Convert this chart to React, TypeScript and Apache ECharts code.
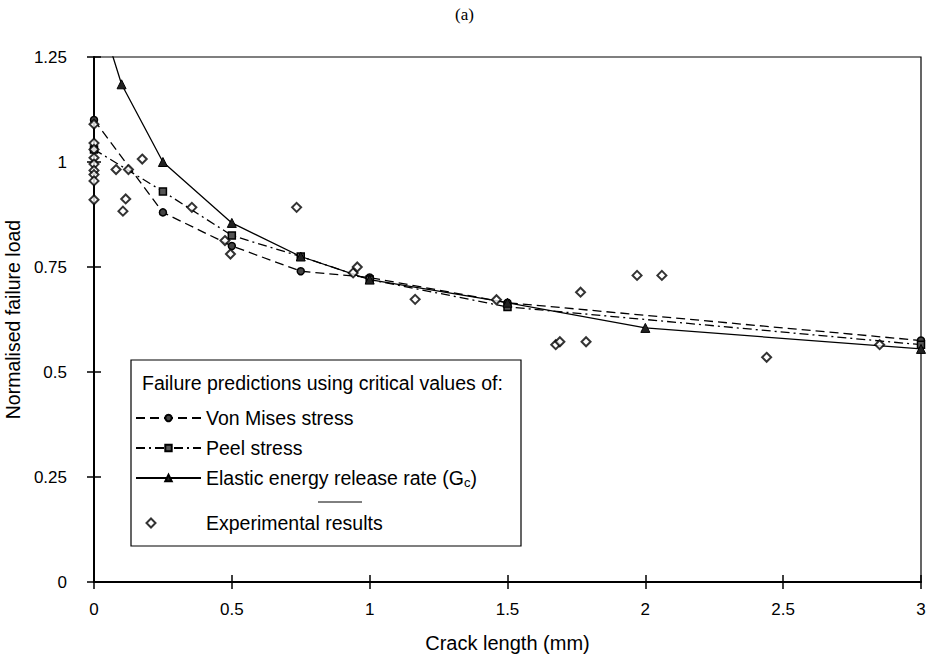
import React, { useEffect, useRef } from "react";
import * as echarts from "echarts";

// Crack length (mm) at which the stress-based predictions were computed
const modelX = [0, 0.25, 0.5, 0.75, 1, 1.5, 3];
const vonMises = [1.1, 0.88, 0.8, 0.74, 0.725, 0.665, 0.575];
const peel = [1.03, 0.93, 0.825, 0.775, 0.72, 0.655, 0.565];
// Energy-based prediction (first point lies above the plotted range)
const gcX = [0.05, 0.1, 0.25, 0.5, 0.75, 1, 1.5, 2, 3];
const gcY = [1.29, 1.185, 1.0, 0.855, 0.775, 0.72, 0.665, 0.605, 0.555];

// Experimental results
const expX = [0, 0, 0, 0, 0, 0, 0, 0, 0, 0.08, 0.105, 0.115, 0.125, 0.175, 0.355, 0.475, 0.495, 0.735, 0.94, 0.955, 1.165, 1.46, 1.675, 1.69, 1.765, 1.785, 1.97, 2.06, 2.44, 2.85];
const expY = [1.09, 1.045, 1.03, 1.01, 0.995, 0.98, 0.97, 0.955, 0.91, 0.982, 0.883, 0.912, 0.982, 1.007, 0.892, 0.813, 0.781, 0.892, 0.736, 0.75, 0.673, 0.672, 0.565, 0.572, 0.69, 0.572, 0.73, 0.73, 0.535, 0.565];

const xTicks = [0, 0.5, 1, 1.5, 2, 2.5, 3];
const yTicks = [0, 0.25, 0.5, 0.75, 1, 1.25];

const FONT = "'Liberation Sans', Arial, sans-serif";
const GC_NAME = "Elastic energy release rate (Gc)";

export default function App() {
  const ref = useRef<HTMLDivElement>(null);
  useEffect(() => {
    if (!ref.current) return;
    const chart = echarts.init(ref.current, undefined, { renderer: "svg" });
    const pairs = (xs: number[], ys: number[]) => xs.map((x, i) => [x, ys[i]]);
    const gcData: any[] = pairs(gcX, gcY).map((p, i) =>
      i === 0 ? { value: p, symbol: "none" } : p
    );
    const tickStyle = { color: "#000", width: 1.5 };
    const option: any = {
      animation: false,
      backgroundColor: "#fff",
      textStyle: { fontFamily: FONT, color: "#000" },
      title: {
        text: "(a)",
        left: "center",
        top: 1,
        textStyle: { fontFamily: "'Liberation Serif', 'Times New Roman', serif", fontSize: 17, fontWeight: "normal", color: "#000" },
      },
      grid: {
        left: 94,
        right: 8,
        top: 57,
        bottom: 74,
        outerBoundsMode: "none",
        containLabel: false,
        show: true,
        borderColor: "#000",
        borderWidth: 1.2,
        backgroundColor: "transparent",
      },
      xAxis: [
        {
          type: "value",
          min: xTicks[0],
          max: xTicks[xTicks.length - 1],
          interval: 0.5,
          position: "bottom",
          splitLine: { show: false },
          name: "Crack length (mm)",
          nameLocation: "middle",
          nameGap: 51,
          nameTextStyle: { fontFamily: FONT, fontSize: 20, color: "#000" },
          axisLine: { show: true, lineStyle: { color: "#000", width: 2 } },
          axisTick: { show: true, length: 7, lineStyle: tickStyle },
          axisLabel: { fontFamily: FONT, fontSize: 17, color: "#000", margin: 19 },
        },
        {
          type: "value",
          min: xTicks[0],
          max: xTicks[xTicks.length - 1],
          interval: 0.5,
          position: "bottom",
          splitLine: { show: false },
          axisLine: { show: false },
          axisTick: { show: true, inside: true, length: 7, lineStyle: tickStyle },
          axisLabel: { show: false },
        },
      ],
      yAxis: [
        {
          type: "value",
          min: yTicks[0],
          max: yTicks[yTicks.length - 1],
          interval: 0.25,
          position: "left",
          splitLine: { show: false },
          name: "Normalised failure load",
          nameLocation: "middle",
          nameGap: 62,
          nameTextStyle: { fontFamily: FONT, fontSize: 19.5, color: "#000" },
          axisLine: { show: true, lineStyle: { color: "#000", width: 2 } },
          axisTick: { show: true, length: 7, lineStyle: tickStyle },
          axisLabel: { fontFamily: FONT, fontSize: 17, color: "#000", margin: 27 },
        },
        {
          type: "value",
          min: yTicks[0],
          max: yTicks[yTicks.length - 1],
          interval: 0.25,
          position: "left",
          splitLine: { show: false },
          axisLine: { show: false },
          axisTick: { show: true, inside: true, length: 7, lineStyle: tickStyle },
          axisLabel: { show: false },
        },
      ],
      legend: [
        {
          data: ["Von Mises stress", "Peel stress", GC_NAME],
          orient: "vertical",
          left: 130,
          top: 402,
          itemWidth: 65,
          itemHeight: 8,
          itemGap: 8,
          z: 6,
          selectedMode: false,
          textStyle: {
            fontFamily: FONT,
            fontSize: 19.5,
            color: "#000",
            lineHeight: 22,
            rich: {
              sub: { fontFamily: FONT, fontSize: 13, color: "#000", lineHeight: 22, verticalAlign: "bottom", padding: [8, 0, 0, 0] },
            },
          },
          formatter: (name: string) =>
            name === GC_NAME ? "Elastic energy release rate (G{sub|c})" : name,
        },
        {
          data: ["Experimental results"],
          orient: "vertical",
          left: 140.5,
          top: 507,
          itemWidth: 9,
          itemHeight: 9,
          z: 6,
          selectedMode: false,
          textStyle: { fontFamily: FONT, fontSize: 19.5, color: "#000", lineHeight: 22, padding: [0, 0, 0, 45.5] },
        },
      ],
      graphic: [
        {
          type: "rect",
          shape: { x: 131, y: 360, width: 390, height: 186 },
          style: { fill: "#fff", stroke: "#000", lineWidth: 1.2 },
          z: 5,
        },
        {
          type: "text",
          x: 142,
          y: 383,
          style: { text: "Failure predictions using critical values of:", font: `19.5px ${FONT}`, fill: "#000", verticalAlign: "middle", align: "left" },
          z: 6,
        },
        {
          type: "line",
          shape: { x1: 318, y1: 502, x2: 362, y2: 502 },
          style: { stroke: "#000", lineWidth: 1 },
          z: 6,
        },
      ],
      series: [
        {
          name: "Von Mises stress",
          type: "line",
          data: pairs(modelX, vonMises),
          symbol: "circle",
          symbolSize: 7,
          itemStyle: { color: "#444", borderColor: "#000", borderWidth: 1.5 },
          lineStyle: { color: "#000", width: 1.3, type: [9, 5] },
          z: 3,
        },
        {
          name: "Peel stress",
          type: "line",
          data: pairs(modelX, peel),
          symbol: "rect",
          symbolSize: 7,
          itemStyle: { color: "#555", borderColor: "#000", borderWidth: 1.5 },
          lineStyle: { color: "#000", width: 1.3, type: [9, 4, 2, 4] },
          z: 3,
        },
        {
          name: GC_NAME,
          type: "line",
          data: gcData,
          symbol: "triangle",
          symbolSize: 9,
          itemStyle: { color: "#222", borderColor: "#000", borderWidth: 1 },
          lineStyle: { color: "#000", width: 1.3, type: "solid" },
          z: 3,
        },
        {
          name: "Experimental results",
          type: "scatter",
          data: pairs(expX, expY),
          symbol: "diamond",
          symbolSize: 9,
          itemStyle: { color: "#fff", borderColor: "#000", borderWidth: 2 },
          z: 4,
        },
      ],
    };
    chart.setOption(option);
    return () => chart.dispose();
  }, []);
  return (
    <div
      ref={ref}
      style={{ position: "fixed", left: 0, top: 0, width: 929, height: 656, background: "#fff" }}
    />
  );
}
